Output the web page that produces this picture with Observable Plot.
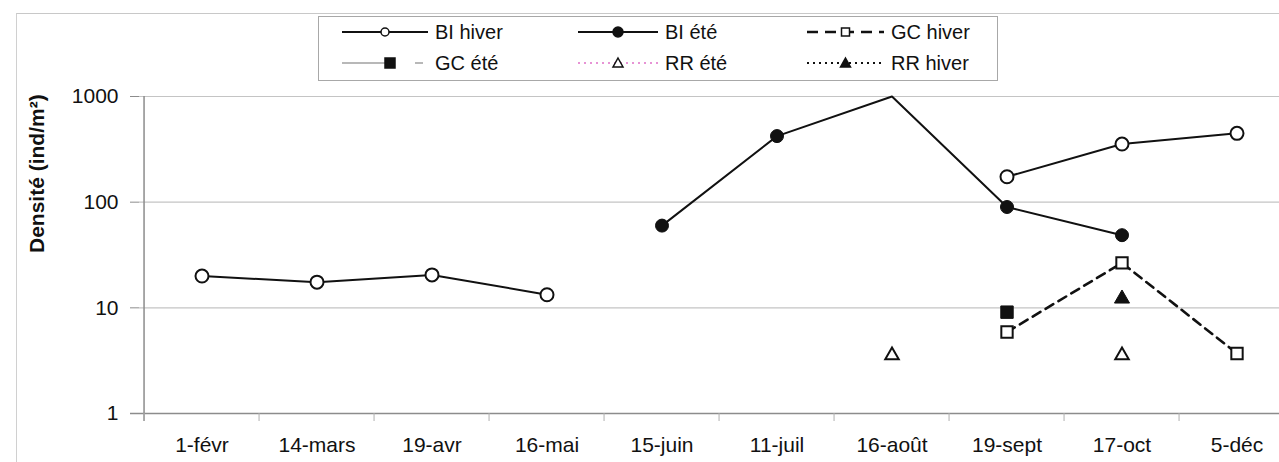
<!DOCTYPE html>
<html>
<head>
<meta charset="utf-8">
<script src="https://cdn.jsdelivr.net/npm/d3@7"></script>
<script src="https://cdn.jsdelivr.net/npm/@observablehq/plot@0.6"></script>
<style>
  html, body { margin: 0; padding: 0; background: #fff; }
  #wrap { position: relative; width: 1279px; height: 462px; overflow: hidden; font-family: "Liberation Sans", Arial, sans-serif; color: #111; }
  #frame { position: absolute; left: 16px; top: 13px; width: 1300px; height: 500px; border-left: 1.5px solid #d0d0d0; border-top: 1.5px solid #c8c8c8; pointer-events: none; }
  #legend { position: absolute; left: 318px; top: 16px; width: 678px; height: 63px; border: 1.5px solid #a8a8a8; background: #fff; }
  .item { position: absolute; display: flex; align-items: center; height: 24px; font-size: 20px; }
  .item svg { display: block; }
  .item span { margin-left: 7px; white-space: nowrap; }
</style>
</head>
<body>
<div id="wrap">
  <div id="chart"></div>
  <div id="frame"></div>
  <div id="legend"></div>
</div>
<script>
// ---- data ----
const dates = ["1-févr", "14-mars", "19-avr", "16-mai", "15-juin", "11-juil", "16-août", "19-sept", "17-oct", "5-déc"];
const biHiver = [20, 17.5, 20.5, 13.3, null, null, null, 174, 355, 448];
const biEte   = [null, null, null, null, 60, 422, 1000, 90, 48.7, null];
const gcHiver = [null, null, null, null, null, null, null, 5.9, 26.6, 3.7];
const gcEte   = [null, null, null, null, null, null, null, 9.1, null, null];
const rrEte   = [null, null, null, null, null, null, 3.55, null, 3.55, null];
const rrHiver = [null, null, null, null, null, null, null, null, 12.2, null];
const yTicks = [1, 10, 100, 1000];
const yLabel = "Densité (ind/m²)";
const seriesNames = ["BI hiver", "BI été", "GC hiver", "GC été", "RR été", "RR hiver"];

const rows = (vals) => dates.map((d, i) => ({date: d, v: vals[i]}));

const x0 = 139, x1 = 1298;
const bw = (x1 - x0) / dates.length;

const chart = Plot.plot({
  width: 1279,
  height: 462,
  marginTop: 96,
  marginBottom: 49,
  marginLeft: 139,
  marginRight: 0,
  x: {type: "band", domain: dates, range: [x0, x1], padding: 0, label: null},
  y: {type: "log", domain: [1, 1000], label: null},
  style: {fontFamily: "'Liberation Sans', Arial, sans-serif", fontSize: "21px", color: "#111", background: "transparent", overflow: "hidden"},
  marks: [
    Plot.gridY([10, 100, 1000], {stroke: "#c4c4c4", strokeOpacity: 1, strokeWidth: 1.2}),
    Plot.ruleY([1], {stroke: "#8c8c8c", strokeWidth: 1.5, insetLeft: -9}),
    Plot.ruleX([dates[0]], {dx: -bw / 2, stroke: "#8c8c8c", strokeWidth: 1.5, insetBottom: -8}),
    Plot.axisY({ticks: yTicks, tickFormat: d => String(d), tickSize: 9, tickPadding: 12, stroke: "#8c8c8c", label: null, fontSize: 21}),
    Plot.axisX({tickSize: 8, tickFormat: () => "", dx: -bw / 2, stroke: "#b0b0b0", label: null}),
    Plot.axisX({tickSize: 0, tickPadding: 24, label: null, fontSize: 21}),
    Plot.text([yLabel], {frameAnchor: "left", dx: -102, dy: -2, rotate: -90, fontSize: 21, fontWeight: "bold", fill: "#111"}),
    // GC été (gray line)
    Plot.line(rows(gcEte), {x: "date", y: "v", stroke: "#b8b8b8", strokeWidth: 2}),
    // RR été (pink dotted)
    Plot.line(rows(rrEte), {x: "date", y: "v", stroke: "#e070c8", strokeWidth: 1.5, strokeDasharray: "2,4"}),
    // RR hiver (black dotted)
    Plot.line(rows(rrHiver), {x: "date", y: "v", stroke: "#111", strokeWidth: 2, strokeDasharray: "2,4"}),
    // GC hiver dashed
    Plot.line(rows(gcHiver), {x: "date", y: "v", stroke: "#111", strokeWidth: 2.6, strokeDasharray: "9,6"}),
    // BI été
    Plot.line(rows(biEte), {x: "date", y: "v", stroke: "#111", strokeWidth: 2}),
    // BI hiver
    Plot.line(rows(biHiver), {x: "date", y: "v", stroke: "#111", strokeWidth: 2}),
    // markers
    Plot.dot(rows(biHiver), {x: "date", y: "v", r: 6.5, fill: "#fff", stroke: "#111", strokeWidth: 2}),
    Plot.dot(rows(biEte).filter(d => d.v != null && d.v < 1000), {x: "date", y: "v", r: 6.5, fill: "#111", stroke: "#111", strokeWidth: 1}),
    Plot.dot(rows(gcHiver), {x: "date", y: "v", symbol: "square", r: 6.4, fill: "#fff", stroke: "#111", strokeWidth: 2}),
    Plot.dot(rows(gcEte), {x: "date", y: "v", symbol: "square", r: 7, fill: "#111", stroke: "#111", strokeWidth: 1}),
    Plot.dot(rows(rrEte), {x: "date", y: "v", symbol: "triangle", r: 5, fill: "#fff", stroke: "#111", strokeWidth: 2}),
    Plot.dot(rows(rrHiver), {x: "date", y: "v", symbol: "triangle", r: 5.6, fill: "#111", stroke: "#111", strokeWidth: 1})
  ]
});
document.getElementById("chart").appendChild(chart);

// ---- legend ----
const legendSpecs = [
  {name: seriesNames[0], col: 0, row: 0, line: {stroke: "#111", w: 2, dash: null}, mk: {sym: "circle", fill: "#fff", stroke: "#111"}},
  {name: seriesNames[1], col: 1, row: 0, line: {stroke: "#111", w: 2.2, dash: null}, mk: {sym: "circle", fill: "#111", stroke: "#111"}},
  {name: seriesNames[2], col: 2, row: 0, line: {stroke: "#111", w: 2.4, dash: "11,7"}, mk: {sym: "square", fill: "#fff", stroke: "#111"}},
  {name: seriesNames[3], col: 0, row: 1, line: {stroke: "#b8b8b8", w: 2, dash: null, gap: true}, mk: {sym: "square", fill: "#111", stroke: "#111"}},
  {name: seriesNames[4], col: 1, row: 1, line: {stroke: "#e070c8", w: 1.5, dash: "2,4"}, mk: {sym: "triangle", fill: "#fff", stroke: "#111"}},
  {name: seriesNames[5], col: 2, row: 1, line: {stroke: "#111", w: 2, dash: "2,4"}, mk: {sym: "triangle", fill: "#111", stroke: "#111"}}
];
const colX = [23, 259, 488];
const colW = [86, 80, 77];
const rowY = [3, 34];
const legend = document.getElementById("legend");
for (const s of legendSpecs) {
  const w = colW[s.col];
  const div = document.createElement("div");
  div.className = "item";
  div.style.left = colX[s.col] + "px";
  div.style.top = rowY[s.row] + "px";
  const svg = d3.create("svg").attr("width", w).attr("height", 24);
  const cx = s.line.gap ? 48 : w / 2, cy = 12;
  if (s.line.gap) {
    svg.append("line").attr("x1", 0).attr("x2", cx).attr("y1", cy).attr("y2", cy).attr("stroke", s.line.stroke).attr("stroke-width", s.line.w);
    svg.append("line").attr("x1", 73).attr("x2", 81).attr("y1", cy).attr("y2", cy).attr("stroke", s.line.stroke).attr("stroke-width", s.line.w);
  } else {
    svg.append("line").attr("x1", 0).attr("x2", w).attr("y1", cy).attr("y2", cy)
      .attr("stroke", s.line.stroke).attr("stroke-width", s.line.w)
      .attr("stroke-dasharray", s.line.dash);
  }
  if (s.mk.sym === "circle") {
    svg.append("circle").attr("cx", cx).attr("cy", cy).attr("r", s.mk.fill === "#fff" ? 4 : 5)
      .attr("fill", s.mk.fill).attr("stroke", s.mk.stroke).attr("stroke-width", 1.5);
  } else if (s.mk.sym === "square") {
    const h = s.mk.fill === "#fff" ? 4 : 5;
    svg.append("rect").attr("x", cx - h).attr("y", cy - h).attr("width", 2 * h).attr("height", 2 * h)
      .attr("fill", s.mk.fill).attr("stroke", s.mk.stroke).attr("stroke-width", 1.5);
  } else {
    const h = 5;
    svg.append("path").attr("d", `M${cx},${cy - h}L${cx + h},${cy + h * 0.8}L${cx - h},${cy + h * 0.8}Z`)
      .attr("fill", s.mk.fill).attr("stroke", s.mk.stroke).attr("stroke-width", 1.5);
  }
  div.appendChild(svg.node());
  const span = document.createElement("span");
  span.textContent = s.name;
  div.appendChild(span);
  legend.appendChild(div);
}
</script>
</body>
</html>
